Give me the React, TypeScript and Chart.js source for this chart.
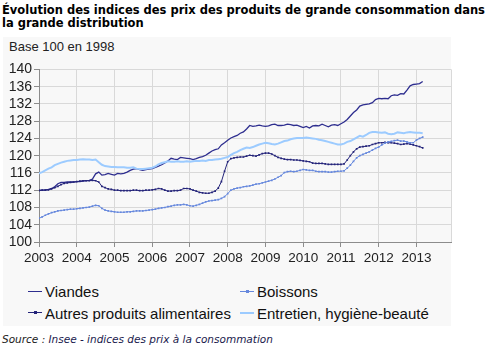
import React, { useEffect, useRef } from "react";
import { Chart, registerables } from "chart.js";

Chart.register(...registerables);

const startYear = 2003;
const endYear = 2003 + 131 / 12;
const yearTicks = [2003, 2004, 2005, 2006, 2007, 2008, 2009, 2010, 2011, 2012, 2013];
const valueTicks = [100, 104, 108, 112, 116, 120, 124, 128, 132, 136, 140];

const seriesNames = ["Viandes", "Boissons", "Autres produits alimentaires", "Entretien, hygiène-beauté"];

const viandes = [
  112.0, 112.0, 112.1, 112.2, 112.4, 112.8, 113.5, 113.8, 113.8, 113.9, 113.9, 113.9,
  114.0, 114.0, 114.1, 114.2, 114.3, 114.6, 115.8, 116.2, 115.5, 115.6, 115.9, 115.7,
  115.5, 115.9, 115.8, 115.9, 116.2, 116.6, 116.9, 117.0, 116.8, 116.6, 116.8, 116.9,
  117.0, 117.3, 117.6, 117.9, 118.3, 118.8, 119.4, 119.2, 119.1, 119.6, 119.5, 119.4,
  119.3, 119.1, 119.3, 119.6, 119.8, 120.1, 120.6, 121.1, 121.4, 121.6, 122.5, 123.0,
  123.6, 124.1, 124.4, 124.7, 125.2, 125.5, 126.2, 127.0, 126.8, 126.9, 127.1, 126.9,
  126.8, 126.9, 127.2, 127.3, 127.0, 127.0, 127.1, 127.3, 127.2, 127.0, 127.1, 126.8,
  126.5, 126.8, 126.4, 126.9, 127.0, 126.9, 127.3, 127.0, 126.7, 127.1, 127.2, 127.0,
  127.4, 127.8, 128.4, 129.2, 130.0, 130.6, 131.5, 131.8, 131.9, 132.0, 132.3, 133.0,
  133.3, 133.2, 133.3, 133.2, 133.9, 134.1, 134.0, 134.4, 134.3, 135.2, 136.2, 136.5,
  136.6, 136.7, 137.2,
];

const boissons = [
  105.5, 105.8, 106.2, 106.5, 106.8, 107.0, 107.2, 107.3, 107.4, 107.5, 107.6, 107.6,
  107.7, 107.8, 107.9, 108.0, 108.1, 108.3, 108.5, 108.4, 107.8, 107.4, 107.2, 107.1,
  107.0, 106.9, 106.9, 106.9, 107.0, 107.0, 107.1, 107.2, 107.2, 107.2, 107.3, 107.4,
  107.5, 107.6, 107.8, 107.9, 108.0, 108.2, 108.3, 108.5, 108.6, 108.6, 108.7, 108.6,
  108.4, 108.3, 108.5, 108.7, 109.0, 109.3, 109.5, 109.6, 109.7, 109.8, 110.1, 110.5,
  111.2, 112.0, 112.3, 112.5, 112.6, 112.8, 112.9, 113.0, 113.2, 113.4, 113.5, 113.7,
  113.9, 114.1, 114.3, 114.6, 115.0, 115.4, 116.1, 116.3, 116.4, 116.3, 116.4, 116.6,
  116.8, 116.7, 116.6, 116.6, 116.4, 116.3, 116.3, 116.3, 116.2, 116.2, 116.3, 116.4,
  116.4, 116.5, 117.1, 117.8, 118.7, 119.5, 120.0, 120.3, 120.6, 120.9, 121.3, 121.7,
  122.0, 122.5, 122.9, 123.2, 123.3, 123.5, 123.6, 123.4, 123.4, 123.2, 123.0, 123.0,
  123.6, 124.0, 124.3,
];

const autres = [
  111.9, 112.0, 112.0, 112.1, 112.3, 112.6, 112.9, 113.3, 113.6, 113.7, 113.8, 113.9,
  114.0, 114.1, 114.2, 114.2, 114.2, 114.3, 114.2, 113.9, 112.9, 112.6, 112.3, 112.2,
  112.0, 112.0, 111.9, 111.9, 111.9, 111.9, 112.0, 112.0, 111.9, 111.9, 112.0, 112.0,
  112.1, 112.2, 112.4, 112.3, 112.0, 111.8, 111.8, 111.9, 111.9, 112.0, 112.4, 112.4,
  112.3, 112.0, 111.8, 111.5, 111.4, 111.3, 111.3, 111.5, 111.8, 112.5, 114.0, 116.4,
  118.6, 119.3, 119.5, 119.6, 119.7, 119.7, 119.9, 120.1, 120.0, 119.9, 120.2, 120.5,
  120.6, 120.6, 120.4, 120.0, 119.6, 119.4, 119.2, 119.1, 119.1, 119.0, 119.0, 118.9,
  118.8, 118.7, 118.6, 118.3, 118.2, 118.2, 118.2, 118.1, 118.0, 118.0, 118.0, 118.0,
  118.0, 118.1, 119.0, 120.0, 120.9, 121.6, 122.0, 122.1, 122.2, 122.3, 122.6, 122.8,
  123.0, 123.0, 123.1, 123.0, 123.0, 122.9, 122.8, 122.6, 122.7, 122.8, 122.7, 122.5,
  122.3, 122.1, 121.8,
];

const entretien = [
  115.9, 116.2, 116.6, 117.0, 117.3, 117.8, 118.1, 118.4, 118.6, 118.8, 118.9, 119.0,
  119.0, 119.1, 119.2, 119.1, 119.1, 119.0, 119.1, 118.5, 117.9, 117.6, 117.5, 117.4,
  117.4, 117.3, 117.3, 117.3, 117.2, 117.2, 117.3, 117.0, 116.9, 116.9, 117.0, 117.1,
  117.2, 117.5, 118.0, 118.3, 118.5, 118.7, 118.6, 118.6, 118.7, 118.6, 118.6, 118.7,
  118.6, 118.7, 118.8, 118.8, 118.9, 118.8, 119.0, 119.0, 119.1, 119.2, 119.3, 119.5,
  119.7, 120.2, 120.6, 120.9, 121.3, 121.6, 121.9, 121.8, 122.0, 122.3, 122.6, 122.8,
  123.0, 122.9, 122.7, 122.6, 122.8, 123.1, 123.4, 123.5, 123.8, 124.0, 124.1, 124.1,
  124.1, 124.2, 124.1, 124.0, 123.9, 123.7, 123.6, 123.4, 123.2, 123.0, 122.8, 122.6,
  122.6, 122.8, 123.2, 123.4, 123.8, 124.2, 124.6, 124.4, 124.8, 125.3, 125.5, 125.5,
  125.4, 125.3, 125.4, 125.1, 125.0, 125.1, 125.4, 125.3, 125.2, 125.4, 125.5, 125.4,
  125.3, 125.3, 125.2,
];

const COLORS = {
  viandes: "#2e2e8f",
  boissons: "#6688dd",
  autres: "#24247a",
  entretien: "#9ccbff",
};

const GRID = "#d9d9d9";
const AXIS = "#8c8c8c";

function toPoints(vals: number[]) {
  return vals.map((v, i) => ({ x: startYear + i / 12, y: v }));
}

const rightBorder = {
  id: "rightBorder",
  beforeDatasetsDraw(chart: any) {
    const { ctx, chartArea } = chart;
    ctx.save();
    ctx.strokeStyle = GRID;
    ctx.lineWidth = 1;
    ctx.beginPath();
    ctx.moveTo(Math.round(chartArea.right) + 0.5, chartArea.top);
    ctx.lineTo(Math.round(chartArea.right) + 0.5, chartArea.bottom);
    ctx.stroke();
    ctx.restore();
  },
};

export default function App() {
  const ref = useRef<HTMLCanvasElement | null>(null);

  useEffect(() => {
    document.body.style.margin = "0";
    if (!ref.current) return;
    const tickFont = { family: '"Liberation Sans", Arial, sans-serif', size: 14 };
    const chart = new Chart(ref.current, {
      type: "line",
      data: {
        datasets: [
          {
            label: seriesNames[3],
            data: toPoints(entretien),
            borderColor: COLORS.entretien,
            borderWidth: 2,
            pointRadius: 0,
            tension: 0,
          },
          {
            label: seriesNames[1],
            data: toPoints(boissons),
            borderColor: COLORS.boissons,
            backgroundColor: COLORS.boissons,
            borderWidth: 1,
            pointRadius: 1.2,
            pointStyle: "rect",
            pointBorderWidth: 0,
            tension: 0,
          },
          {
            label: seriesNames[2],
            data: toPoints(autres),
            borderColor: COLORS.autres,
            backgroundColor: COLORS.autres,
            borderWidth: 1,
            pointRadius: 1.2,
            pointStyle: "rect",
            pointBorderWidth: 0,
            tension: 0,
          },
          {
            label: seriesNames[0],
            data: toPoints(viandes),
            borderColor: COLORS.viandes,
            borderWidth: 1.3,
            pointRadius: 0,
            tension: 0,
          },
        ],
      },
      options: {
        animation: false,
        responsive: false,
        devicePixelRatio: 1,
        layout: { padding: { top: 10, right: 40, left: 0, bottom: 0 } },
        plugins: { legend: { display: false }, tooltip: { enabled: false } },
        scales: {
          x: {
            type: "linear",
            min: startYear,
            max: endYear,
            afterBuildTicks: (axis: any) => {
              axis.ticks = yearTicks.map((value) => ({ value }));
            },
            afterFit: (s: any) => {
              s.height = 30;
            },
            ticks: {
              font: { ...tickFont, size: 13.5 },
              color: "#222",
              padding: 3,
              maxRotation: 0,
              autoSkip: false,
              callback: (v: any) => String(v),
            },
            grid: { color: GRID, tickLength: 5, tickColor: AXIS },
            border: { color: AXIS },
          },
          y: {
            min: 100,
            max: 140,
            afterBuildTicks: (axis: any) => {
              axis.ticks = valueTicks.map((value) => ({ value }));
            },
            afterFit: (s: any) => {
              s.width = 39;
            },
            ticks: { font: tickFont, color: "#222", padding: 2, autoSkip: false },
            grid: { color: GRID, tickLength: 5, tickColor: AXIS },
            border: { color: AXIS },
          },
        },
      },
      plugins: [rightBorder],
    } as any);
    return () => chart.destroy();
  }, []);

  const legendText: React.CSSProperties = {
    position: "absolute",
    fontFamily: '"Liberation Sans", Arial, sans-serif',
    fontSize: 15,
    lineHeight: "17px",
    color: "#111",
    whiteSpace: "nowrap",
  };
  const swatch = (left: number, top: number, color: string, h: number, marker: boolean) => (
    <div style={{ position: "absolute", left, top, width: 14, height: 14 }}>
      <div style={{ position: "absolute", left: 0, top: 7 - h / 2, width: 14, height: h, background: color }} />
      {marker && (
        <div style={{ position: "absolute", left: 6, top: 5.5, width: 3, height: 3, background: color }} />
      )}
    </div>
  );

  return (
    <div style={{ position: "relative", width: 491, height: 354, background: "#fff", overflow: "hidden" }}>
      <div
        style={{
          position: "absolute",
          left: 2,
          top: 4,
          fontFamily: '"DejaVu Sans", Verdana, sans-serif',
          fontWeight: "bold",
          fontSize: 11.5,
          lineHeight: "13px",
          color: "#000",
          whiteSpace: "nowrap",
        }}
      >
        Évolution des indices des prix des produits de grande consommation dans
        <br />
        la grande distribution
      </div>
      <div style={{ position: "absolute", left: 3, top: 37, width: 448, height: 289, background: "#f8f8f8" }} />
      <div
        style={{
          position: "absolute",
          left: 9,
          top: 39,
          fontFamily: '"Liberation Sans", Arial, sans-serif',
          fontSize: 13,
          lineHeight: "15px",
          color: "#222",
          whiteSpace: "nowrap",
        }}
      >
        Base 100 en 1998
      </div>
      <canvas ref={ref} width={491} height={213} style={{ position: "absolute", left: 0, top: 59, width: 491, height: 213 }} />
      {swatch(28, 284.5, COLORS.viandes, 1.5, false)}
      <div style={{ ...legendText, left: 45, top: 283 }}>{seriesNames[0]}</div>
      {swatch(240, 284.5, COLORS.boissons, 1, true)}
      <div style={{ ...legendText, left: 257, top: 283 }}>{seriesNames[1]}</div>
      {swatch(28, 305.5, COLORS.autres, 1, true)}
      <div style={{ ...legendText, left: 45, top: 304.5 }}>{seriesNames[2]}</div>
      {swatch(240, 305.5, COLORS.entretien, 2, false)}
      <div style={{ ...legendText, left: 257, top: 304.5 }}>{seriesNames[3]}</div>
      <div
        style={{
          position: "absolute",
          left: 2,
          top: 333,
          fontFamily: '"DejaVu Sans", Verdana, sans-serif',
          fontStyle: "italic",
          fontSize: 10.5,
          lineHeight: "12px",
          color: "#1a1a1a",
          whiteSpace: "nowrap",
        }}
      >
        Source : <span style={{ color: "#1a1a4d" }}>Insee - indices des prix à la consommation</span>
      </div>
    </div>
  );
}
